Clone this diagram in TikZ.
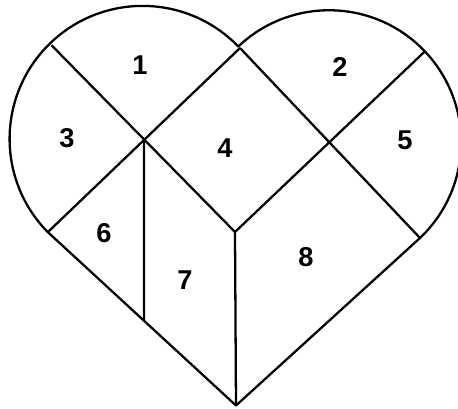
\documentclass[tikz,border=0pt]{standalone}
\usepackage{fontspec}
\setmainfont{Liberation Sans}
\usetikzlibrary{calc}

\begin{document}
\begin{tikzpicture}[
    scale=0.2,
    edge/.style={line width=1.3pt, line join=round},
    numlabel/.style={font=\fontsize{15.5}{18}\selectfont\bfseries,
                     inner sep=0pt},
]
\useasboundingbox (0,0) rectangle (45.8,40.9);

% ---------------- Square corners and lobe centres -------------------------
\coordinate (T) at (24.0,36.1);
\coordinate (B) at (23.6,0.35);
\coordinate (L) at (4.8,17.7);
\coordinate (R) at (42.0,17.1);
\coordinate (V) at (23.5,17.7);
\coordinate (P) at (14.4,26.8);
\coordinate (Q) at (33.0,26.6);

% Points on the arcs, across the lobe centres from V
\coordinate (A1) at ($(P)+(134:13.3)$);
\coordinate (A2) at ($(Q)+(44:13.2)$);

% Foot of the vertical cut below P
\coordinate (Pb) at (P |- B);
\coordinate (W)  at (intersection of P--Pb and L--B);

% ---------------- Heart outline --------------------------------------------
\draw[edge] (B) -- (R)
    arc[start angle=-46.5, end angle=133.5, radius=13.2]
    arc[start angle=44, end angle=224, radius=13.3]
    -- cycle;

% ---------------- Cuts -----------------------------------------------------
\draw[edge] (T) -- (L);
\draw[edge] (T) -- (R);
\draw[edge] (A1) -- (V);
\draw[edge] (A2) -- (V);
\draw[edge] (V) -- (B);
\draw[edge] (P) -- (W);

% ---------------- Piece numbers --------------------------------------------
\node[numlabel] (p1) at (14.0,34.4) {1};
\node[numlabel] (p2) at (34.0,34.2) {2};
\node[numlabel] (p3) at (6.7,27.1)  {3};
\node[numlabel] (p4) at (22.5,26.1) {4};
\node[numlabel] (p5) at (40.5,26.9) {5};
\node[numlabel] (p6) at (10.4,17.6) {6};
\node[numlabel] (p7) at (18.5,12.9) {7};
\node[numlabel] (p8) at (30.6,15.2) {8};

\end{tikzpicture}
\end{document}
